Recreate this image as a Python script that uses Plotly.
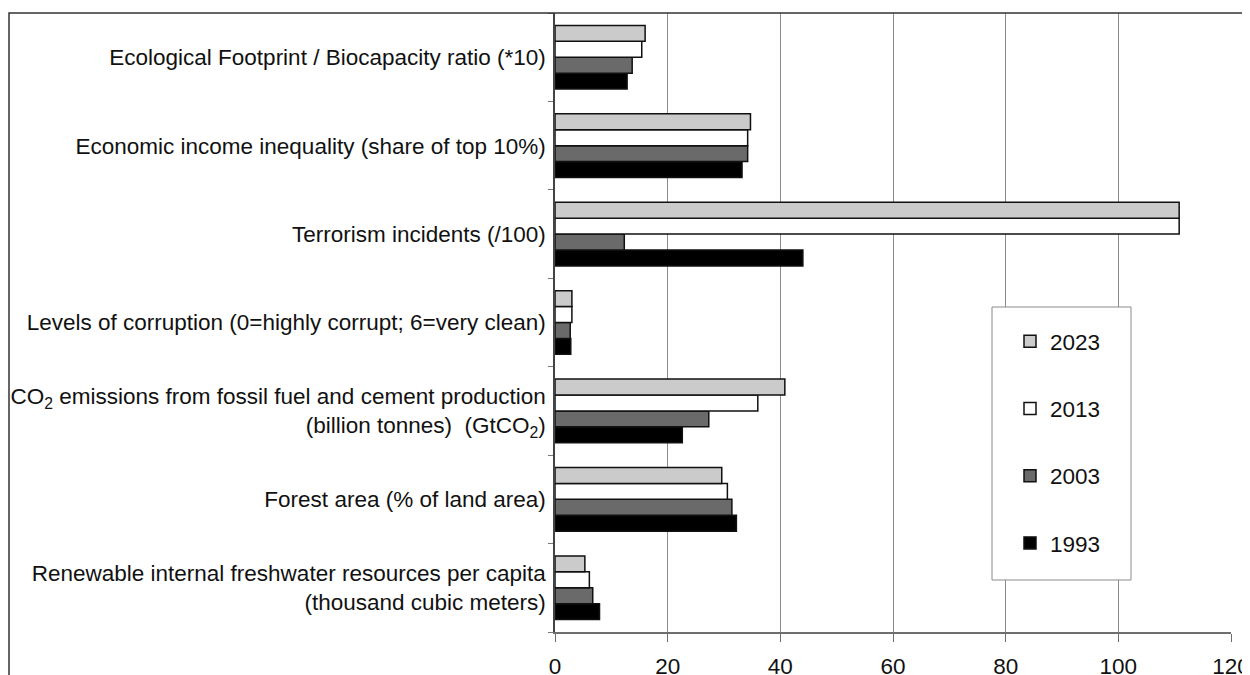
import plotly.graph_objects as go

categories = [
    "Ecological Footprint / Biocapacity ratio (*10)",
    "Economic income inequality (share of top 10%)",
    "Terrorism incidents (/100)",
    "Levels of corruption (0=highly corrupt; 6=very clean)",
    "CO<sub>2</sub> emissions from fossil fuel and cement production<br>(billion tonnes)  (GtCO<sub>2</sub>)",
    "Forest area (% of land area)",
    "Renewable internal freshwater resources per capita<br>(thousand cubic meters)",
]
years = ["1993", "2003", "2013", "2023"]
v1993 = [12.8, 33.2, 44.0, 2.8, 22.6, 32.2, 7.9]
v2003 = [13.7, 34.2, 12.3, 2.7, 27.3, 31.4, 6.7]
v2013 = [15.4, 34.2, 110.8, 3.0, 36.0, 30.6, 6.1]
v2023 = [16.0, 34.7, 110.8, 3.0, 40.8, 29.6, 5.3]
x_ticks = [0, 20, 40, 60, 80, 100, 120]

series = [v1993, v2003, v2013, v2023]
colors = ["#000000", "#6a6a6a", "#ffffff", "#cbcbcb"]
ranks = [4, 3, 2, 1]

FONT = "Liberation Sans, Arial, sans-serif"

fig = go.Figure()
for yr, vals, col, rk in zip(years, series, colors, ranks):
    fig.add_trace(go.Bar(
        y=categories, x=vals, name=yr, orientation="h",
        marker=dict(color=col, line=dict(color="#111111", width=1.5)),
        legendgroup=yr, legendrank=rk,
    ))

# page body adds an 8px offset; figure coords = screen coords - 8
OFF = 8
W, H = 1250, 675
sx0, sx1, sy0, sy1 = 555, 1231, 13, 632   # plot area in screen pixels
L = sx0 - OFF
R = W - (sx1 - OFF)
T = sy0 - OFF
B = H - (sy1 - OFF)
pw, ph = W - L - R, H - T - B

def px(xs):
    return (xs - OFF - L) / pw

def py(ys):
    return (H - B - (ys - OFF)) / ph

fig.update_layout(
    width=W, height=H,
    margin=dict(l=L, r=R, t=T, b=B, autoexpand=False),
    paper_bgcolor="white", plot_bgcolor="white",
    barmode="group", bargap=0.28, bargroupgap=0,
    font=dict(family=FONT, size=22.5, color="#111111"),
    showlegend=True,
    legend=dict(
        x=px(1010), y=py(320), xanchor="left", yanchor="top",
        bgcolor="rgba(0,0,0,0)", borderwidth=0,
        traceorder="grouped", tracegroupgap=35,
        font=dict(family=FONT, size=22.5, color="#111111"),
    ),
    xaxis=dict(
        range=[0, 120], tickvals=x_ticks, ticktext=[str(t) for t in x_ticks],
        showgrid=True, gridcolor="#8c8c8c", gridwidth=1,
        showline=True, linecolor="#6e6e6e", linewidth=1.5,
        ticks="outside", ticklen=8, tickcolor="#6e6e6e",
        ticklabelstandoff=5, zeroline=False, automargin=False,
        tickfont=dict(family=FONT, size=22.5, color="#111111"),
    ),
    yaxis=dict(
        categoryorder="array", categoryarray=list(reversed(categories)),
        showline=True, linecolor="#444444", linewidth=1.5,
        ticks="outside", tickson="boundaries", ticklen=5, tickcolor="#777777",
        showgrid=False, ticklabelstandoff=3, automargin=False,
        tickfont=dict(family=FONT, size=22.5, color="#111111"),
    ),
    shapes=[
        dict(type="rect", xref="paper", yref="paper",
             x0=px(9), x1=px(1248.5), y0=py(700), y1=py(13),
             line=dict(color="#333333", width=1.5), fillcolor="rgba(0,0,0,0)",
             layer="above"),
        dict(type="rect", xref="paper", yref="paper",
             x0=px(992), x1=px(1131), y0=py(580), y1=py(307),
             line=dict(color="#8a8a8a", width=1), fillcolor="white",
             layer="above"),
    ],
)

fig.write_html("out.html")
